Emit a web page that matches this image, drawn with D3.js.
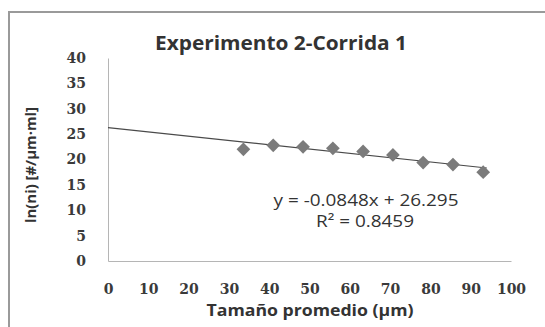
<!DOCTYPE html>
<html>
<head>
<meta charset="utf-8">
<script src="https://cdn.jsdelivr.net/npm/d3@7"></script>
<style>
  html, body { margin: 0; padding: 0; background: #fff; }
  svg { display: block; }
</style>
</head>
<body>
<div id="chart"></div>
<script>
// --- datos ---
const sizes = [33.6, 41.0, 48.4, 55.8, 63.3, 70.7, 78.2, 85.6, 93.1];
const lnValues = [22.0, 22.8, 22.5, 22.2, 21.6, 20.9, 19.4, 19.0, 17.5];
const xTicks = [0, 10, 20, 30, 40, 50, 60, 70, 80, 90, 100];
const yTicks = [0, 5, 10, 15, 20, 25, 30, 35, 40];
const slope = -0.0848, intercept = 26.295;
const trendRange = [0, 94];
const title = "Experimento 2-Corrida 1";
const xTitle = "Tamaño promedio (μm)";
const yTitle = "ln(ni) [#/μm·ml]";
const eqText = "y = -0.0848x + 26.295";
const r2Text = "R² = 0.8459";

const W = 545, H = 327;
const svg = d3.select("#chart").append("svg").attr("width", W).attr("height", H);

// marco
svg.append("rect")
    .attr("x", 9).attr("y", 12).attr("width", 540).attr("height", 340)
    .attr("fill", "#fff").attr("stroke", "#9a9a9a").attr("stroke-width", 2);

const x = d3.scaleLinear().domain([0, 100]).range([108, 511]);
const y = d3.scaleLinear().domain([0, 40]).range([261, 58]);

const tickStyle = g => g.selectAll("text")
    .attr("font-family", "DejaVu Serif").attr("font-size", 14)
    .attr("font-weight", "bold").attr("fill", "#3a3a3a");

// ejes
svg.append("g").attr("transform", `translate(0,${y(0)})`)
    .call(d3.axisBottom(x).tickValues(xTicks).tickSize(0).tickPadding(23))
    .call(g => g.select(".domain").attr("stroke", "#b5b5b5"))
    .call(tickStyle);

svg.append("g").attr("transform", `translate(${x(0)},0)`)
    .call(d3.axisLeft(y).tickValues(yTicks).tickSize(0).tickPadding(22))
    .call(g => g.select(".domain").attr("stroke", "#b5b5b5"))
    .call(tickStyle);

// línea de tendencia
const trend = d3.line().x(d => x(d)).y(d => y(slope * d + intercept));
svg.append("path").datum(trendRange)
    .attr("d", trend).attr("fill", "none").attr("stroke", "#4a4a4a").attr("stroke-width", 1.2);

// puntos (rombos)
const diamond = d3.symbol().type(d3.symbolDiamond2).size(120);
svg.selectAll(".pt").data(sizes).enter().append("path")
    .attr("class", "pt")
    .attr("d", diamond)
    .attr("transform", (d, i) => `translate(${x(d)},${y(lnValues[i])})`)
    .attr("fill", "#7b7b7b");

// textos
const label = (txt, px, py, size, weight, len) => svg.append("text")
    .attr("x", px).attr("y", py).attr("text-anchor", "middle")
    .attr("font-family", "Open Sans").attr("font-weight", weight).attr("font-size", size)
    .attr("fill", "#333").attr("textLength", len).attr("lengthAdjust", "spacingAndGlyphs")
    .text(txt);

label(title, 281, 50, 19, "bold", 252);
label(xTitle, 310, 316, 16, "bold", 207);
label(eqText, 366, 206, 17, "normal", 185);
label(r2Text, 365, 227, 17, "normal", 98);

svg.append("text").attr("transform", "translate(36,165) rotate(-90)").attr("text-anchor", "middle")
    .attr("font-family", "Open Sans").attr("font-weight", "bold").attr("font-size", 14)
    .attr("fill", "#333").attr("textLength", 116).attr("lengthAdjust", "spacingAndGlyphs")
    .text(yTitle);
</script>
</body>
</html>
